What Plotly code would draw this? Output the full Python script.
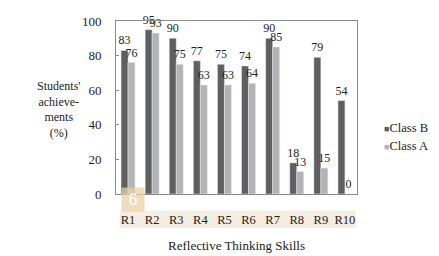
import plotly.graph_objects as go

categories = ["R1", "R2", "R3", "R4", "R5", "R6", "R7", "R8", "R9", "R10"]
class_b = [83, 95, 90, 77, 75, 74, 90, 18, 79, 54]
class_a = [76, 93, 75, 63, 63, 64, 85, 13, 15, 0]
y_ticks = [0, 20, 40, 60, 80, 100]
series_names = ["Class B", "Class A"]
series_colors = ["#5f5f5f", "#b3b3b3"]

font = "Liberation Serif, Times New Roman, serif"

fig = go.Figure()
for name, vals, col in zip(series_names, [class_b, class_a], series_colors):
    fig.add_trace(go.Bar(x=categories, y=vals, name=name, marker_color=col,
                         text=vals, textposition="outside", cliponaxis=False,
                         textfont=dict(size=12, color="#222", family=font)))

fig.update_layout(
    width=439, height=256,
    margin=dict(l=116, r=82, t=21, b=62, autoexpand=False),
    paper_bgcolor="white", plot_bgcolor="white",
    font=dict(family=font, size=12, color="#222"),
    bargap=0.42, bargroupgap=0,
    showlegend=False,
    uniformtext=dict(minsize=8, mode="show"),
)
fig.update_xaxes(showline=True, linecolor="#8a8a8a", mirror=True, ticks="",
                 tickfont=dict(size=12.5, family=font), ticklabelstandoff=14, automargin=False)
fig.update_yaxes(range=[0, 100], tickvals=y_ticks, showline=True, linecolor="#8a8a8a",
                 mirror=True, showgrid=False, ticks="inside", ticklen=3, tickcolor="#8a8a8a",
                 tickfont=dict(size=13, family=font), zeroline=False, ticklabelstandoff=11,
                 automargin=False)

fig.add_annotation(text="Students'<br>achieve-<br>ments<br>(%)", xref="paper", yref="paper",
                   x=-0.336, y=0.49, showarrow=False, font=dict(size=12, family=font),
                   align="center")
fig.add_annotation(text="Reflective Thinking Skills", xref="paper", yref="paper",
                   x=0.502, y=-0.353, showarrow=False, font=dict(size=13, family=font))
# legend drawn as text
for i, (name, col) in enumerate(zip(series_names, series_colors)):
    fig.add_annotation(text=f"<span style='color:{col};font-size:9px'>■</span>{name}",
                       xref="paper", yref="paper", x=1.105, y=0.38 - 0.155 * i,
                       xanchor="left", showarrow=False, font=dict(size=12.5, family=font))
# beige band behind tick labels
fig.add_shape(type="rect", xref="paper", yref="paper", x0=0.015, x1=0.995, y0=-0.098, y1=-0.197,
              fillcolor="#f5eee0", line_width=0, layer="below")
# badge
fig.add_annotation(text="6", xref="paper", yref="paper", x=0.02, y=0.04, xanchor="left",
                   yanchor="top", showarrow=False, width=20, height=21, borderpad=1,
                   bgcolor="rgba(232,208,165,0.75)", align="center", valign="middle",
                   font=dict(size=16, color="#ffffff", family="Liberation Sans, Arial"))

fig.write_html("out.html", post_script="document.body.style.margin='0';",
               config={"displayModeBar": False})
